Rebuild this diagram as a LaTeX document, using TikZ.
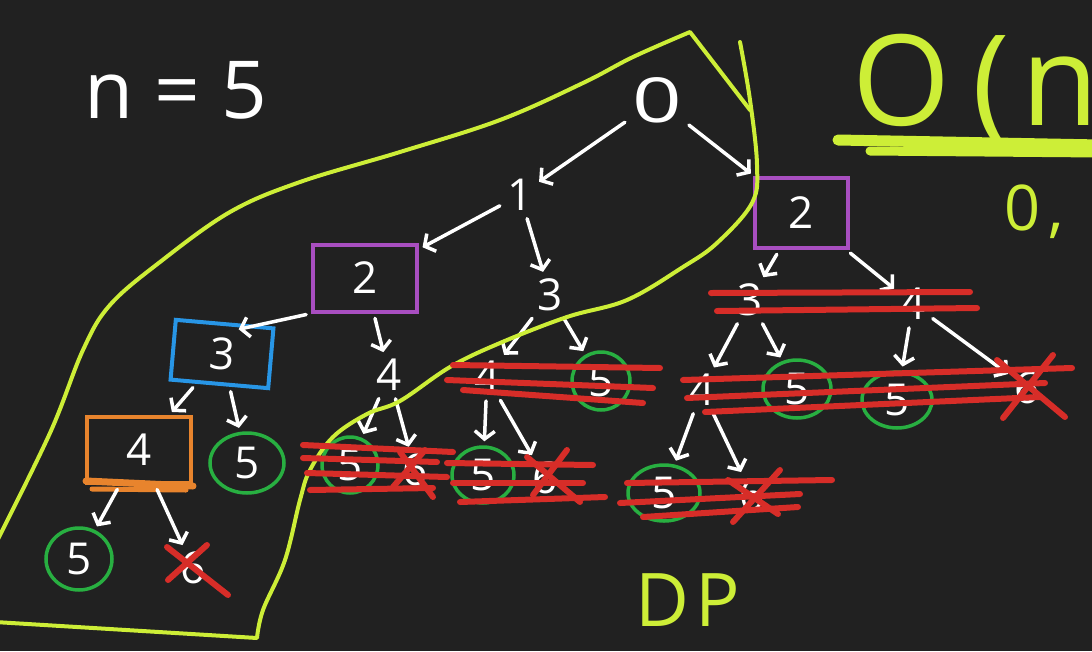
\documentclass[tikz,border=0pt]{standalone}
\usepackage{fontspec}
\usepackage{graphicx}
\setmainfont{Open Sans}
\usetikzlibrary{arrows.meta,shapes.geometric}
\definecolor{bg}{RGB}{33,33,33}
\definecolor{hl}{RGB}{205,238,55}
\definecolor{pur}{RGB}{168,78,192}
\definecolor{blu}{RGB}{40,150,230}
\definecolor{ora}{RGB}{232,132,45}
\definecolor{grn}{RGB}{40,175,65}
\definecolor{rd}{RGB}{215,45,40}
\begin{document}
\begin{tikzpicture}[x=1pt,y=-1pt,
  lbl/.style={text=white,font=\fontsize{44}{44}\selectfont,inner sep=3pt},
  gcirc/.style={lbl,ellipse,draw=grn,line width=3.5pt,inner sep=0pt},
  bx/.style={lbl,rectangle,line width=4pt,inner sep=0pt},
  arr/.style={white,line width=3.5pt,line cap=round,line join=round,
    -{Straight Barb[length=8pt,width=20pt]},shorten <=5pt,shorten >=4pt},
  strike/.style={rd,line width=6pt,line cap=round},
  hlline/.style={hl,line width=4pt,line cap=round,line join=round},
  yel/.style={text=hl,inner sep=0pt}]
\useasboundingbox (0,0) rectangle (1092,651);
\clip (0,0) rectangle (1092,651);
\fill[bg] (0,0) rectangle (1092,651);

% headings
\node[lbl,anchor=base,font=\fontsize{80}{80}\selectfont] (nlabel) at (176,118) {n = 5};
\node[yel,anchor=base west,font=\fontsize{126}{126}\selectfont] (bigo) at (852,125) {O\kern22pt(\kern12pt n};
\node[yel,anchor=base west,font=\fontsize{63}{63}\selectfont] (zero) at (1004,230) {0\kern8pt,};
\node[yel,anchor=base,font=\fontsize{74}{74}\selectfont] (dp) at (688,626) {D\kern6pt P};
\draw[hl,line width=11pt,line cap=round] (838,140) -- (1100,145);
\draw[hl,line width=9pt,line cap=round] (870,151) -- (1100,153);

% tree nodes
\node[lbl,font=\fontsize{62}{62}\selectfont] (root) at (657,100) {\scalebox{1.4}[1]{0}};
\node[lbl] (a1) at (520,195) {1};
\node[bx,draw=pur,minimum width=104,minimum height=67] (a2) at (365,278) {2};
\node[bx,draw=pur,minimum width=93,minimum height=70] (b2) at (801,213) {2};
\node[lbl] (a3) at (550,295) {3};
\node[bx,draw=blu,minimum width=98,minimum height=60,rotate=-5] (c3) at (222,354) {3};
\node[lbl] (a4) at (389,375) {4};
\node[lbl] (m4) at (487,377) {4};
\node[gcirc,minimum width=58,minimum height=58] (m5) at (601,381) {5};
\node[bx,draw=ora,minimum width=104,minimum height=66] (d4) at (139,450) {4};
\node[gcirc,minimum width=74,minimum height=60] (d5) at (247,463) {5};
\node[gcirc,minimum width=66,minimum height=62] (e5) at (79,559) {5};
\node[lbl] (e6) at (193,568) {6};
\node[gcirc,minimum width=56,minimum height=56] (f5) at (350,465) {5};
\node[lbl] (f6) at (415,470) {6};
\node[gcirc,minimum width=62,minimum height=56] (g5) at (483,475) {5};
\node[lbl] (g6) at (545,478) {6};
\node[lbl] (r3) at (750,300) {3};
\node[lbl] (r4) at (913,304) {4};
\node[lbl] (s4) at (702,390) {4};
\node[gcirc,minimum width=68,minimum height=58] (s5) at (797,389) {5};
\node[gcirc,minimum width=70,minimum height=56] (t5) at (897,400) {5};
\node[lbl] (t6) at (1027,388) {6};
\node[gcirc,minimum width=72,minimum height=56] (u5) at (664,493) {5};
\node[lbl] (u6) at (752,495) {6};

\draw[ora,line width=7pt,line cap=round] (86,481) -- (193,486);
\draw[ora,line width=5pt,line cap=round] (92,489) -- (186,490);

% connectors
\draw[arr] (root) -- (a1);
\draw[arr] (root) -- (b2);
\draw[arr] (a1) -- (a2);
\draw[arr] (a1) -- (a3);
\draw[arr] (a2.south west) -- ([xshift=10pt,yshift=-8pt]c3.north);
\draw[arr] (a2) -- (a4);
\draw[arr] (a3) -- (m4);
\draw[arr] (a3) -- (m5);
\draw[arr] (c3) -- (d4);
\draw[arr] (c3) -- (d5);
\draw[arr] (d4) -- (e5);
\draw[arr] (d4) -- (e6);
\draw[arr] (a4) -- (f5);
\draw[arr] (a4) -- (f6);
\draw[arr] (m4) -- (g5);
\draw[arr] (m4) -- (g6);
\draw[arr] (b2) -- (r3);
\draw[arr] (b2) -- (r4);
\draw[arr] (r3) -- (s4);
\draw[arr] (r3) -- (s5);
\draw[arr] (r4) -- (t5);
\draw[arr] (r4) -- (t6);
\draw[arr] (s4) -- (u5);
\draw[arr] (s4) -- (u6);

% highlighted region
\draw[hlline] plot[smooth,tension=0.6] coordinates {(-5,545) (50,433) (83,350) (110,305) (160,262) (230,212) (300,182) (400,152) (500,120) (583,83) (633,57) (690,32)} -- (750,110);
\draw[hlline] plot[smooth,tension=0.6] coordinates {(740,42) (750,100) (757,165) (752,203) (717,243) (683,267) (627,300) (567,317) (500,343) (450,367) (400,401) (367,414) (333,437) (310,470) (300,500) (285,560) (263,610) (257,638)} -- (-5,622);

% strikes
\draw[strike] (711,293) -- (970,292);
\draw[strike] (717,311) -- (977,308);
\draw[strike] (683,380) -- (1072,368);
\draw[strike] (687,398) -- (1045,383);
\draw[strike] (705,412) -- (1040,397);
\draw[strike] (1003,418) -- (1053,355);
\draw[strike] (997,360) -- (1065,417);
\draw[strike] (627,483) -- (832,480);
\draw[strike] (620,503) -- (800,494);
\draw[strike] (643,517) -- (798,507);
\draw[strike] (733,522) -- (780,470);
\draw[strike] (728,480) -- (778,514);
\draw[strike] (453,365) -- (660,368);
\draw[strike] (447,380) -- (653,388);
\draw[strike] (463,390) -- (643,403);
\draw[strike] (303,445) -- (453,452);
\draw[strike] (303,458) -- (437,462);
\draw[strike] (307,473) -- (447,477);
\draw[strike] (310,490) -- (433,488);
\draw[strike] (393,487) -- (425,450);
\draw[strike] (400,452) -- (433,497);
\draw[strike] (447,463) -- (593,465);
\draw[strike] (453,483) -- (583,483);
\draw[strike] (460,502) -- (605,497);
\draw[strike] (533,495) -- (567,450);
\draw[strike] (527,457) -- (580,502);
\draw[strike] (168,580) -- (207,545);
\draw[strike] (167,547) -- (228,595);
\end{tikzpicture}
\end{document}
